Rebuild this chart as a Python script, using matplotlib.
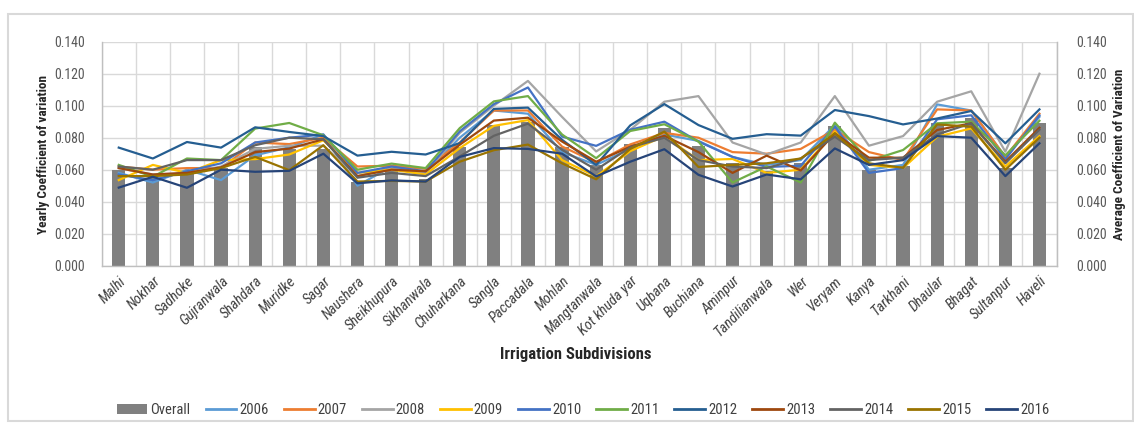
import matplotlib
matplotlib.use("Agg")
import matplotlib.pyplot as plt
from matplotlib import font_manager
from matplotlib.patches import Rectangle, Patch
from matplotlib.lines import Line2D
import numpy as np

subdivisions = ["Malhi", "Nokhar", "Sadhoke", "Gujranwala", "Shahdara", "Muridke", "Sagar",
                "Naushera", "Sheikhupura", "Sikhanwala", "Chuharkana", "Sangla", "Paccadala",
                "Mohlan", "Mangtanwala", "Kot khuda yar", "Uqbana", "Buchiana", "Aminpur",
                "Tandilianwala", "Wer", "Veryam", "Kanya", "Tarkhani", "Dhaular", "Bhagat",
                "Sultanpur", "Haveli"]

overall = [0.060, 0.055, 0.059, 0.061, 0.074, 0.073, 0.073, 0.052, 0.059, 0.054, 0.074, 0.088,
           0.090, 0.074, 0.063, 0.076, 0.086, 0.075, 0.064, 0.059, 0.064, 0.087, 0.060, 0.062,
           0.089, 0.092, 0.061, 0.089]

cv_2006 = [0.058, 0.052, 0.060, 0.0535, 0.069, 0.074, 0.082, 0.050, 0.062, 0.058, 0.080, 0.097,
           0.095, 0.071, 0.063, 0.073, 0.082, 0.078, 0.068, 0.063, 0.066, 0.088, 0.060, 0.063,
           0.1008, 0.097, 0.068, 0.093]
cv_2007 = [0.062, 0.060, 0.061, 0.061, 0.077, 0.076, 0.080, 0.062, 0.0625, 0.0605, 0.077, 0.097,
           0.097, 0.0745, 0.0645, 0.0758, 0.083, 0.080, 0.071, 0.070, 0.073, 0.085, 0.071, 0.066,
           0.0977, 0.097, 0.068, 0.095]
cv_2008 = [0.061, 0.057, 0.058, 0.062, 0.073, 0.075, 0.075, 0.056, 0.061, 0.058, 0.083, 0.100,
           0.1155, 0.093, 0.0714, 0.085, 0.1025, 0.106, 0.077, 0.0695, 0.077, 0.106, 0.075, 0.081,
           0.1025, 0.109, 0.0713, 0.120]
cv_2009 = [0.0535, 0.063, 0.058, 0.066, 0.0666, 0.0695, 0.0784, 0.058, 0.060, 0.057, 0.0735, 0.0874,
           0.091, 0.066, 0.0558, 0.0716, 0.081, 0.066, 0.0667, 0.058, 0.060, 0.0838, 0.063, 0.061,
           0.0806, 0.0858, 0.062, 0.081]
cv_2010 = [0.057, 0.0535, 0.059, 0.064, 0.077, 0.080, 0.082, 0.058, 0.062, 0.059, 0.084, 0.101,
           0.1114, 0.0807, 0.0749, 0.085, 0.090, 0.0776, 0.068, 0.0617, 0.0625, 0.087, 0.058, 0.061,
           0.0915, 0.094, 0.0665, 0.094]
cv_2011 = [0.063, 0.0556, 0.067, 0.066, 0.0857, 0.0892, 0.0815, 0.060, 0.0638, 0.061, 0.086, 0.1027,
           0.106, 0.082, 0.0672, 0.0842, 0.0884, 0.0776, 0.052, 0.062, 0.052, 0.0894, 0.0655, 0.0723,
           0.089, 0.090, 0.069, 0.0906]
cv_2012 = [0.0738, 0.067, 0.0773, 0.0738, 0.0865, 0.0836, 0.081, 0.0688, 0.0712, 0.0695, 0.0766, 0.098,
           0.0988, 0.0787, 0.063, 0.0877, 0.101, 0.0879, 0.0793, 0.0822, 0.0813, 0.0973, 0.0935, 0.0883,
           0.092, 0.0967, 0.0765, 0.0977]
cv_2013 = [0.061, 0.057, 0.058, 0.0615, 0.071, 0.0732, 0.079, 0.056, 0.060, 0.059, 0.0756, 0.0907,
           0.0925, 0.0776, 0.065, 0.0743, 0.0812, 0.071, 0.058, 0.0688, 0.0595, 0.0827, 0.0675, 0.0675,
           0.0848, 0.089, 0.065, 0.0862]
cv_2014 = [0.062, 0.060, 0.066, 0.066, 0.0753, 0.080, 0.079, 0.055, 0.058, 0.056, 0.0683, 0.0812,
           0.0888, 0.0724, 0.060, 0.074, 0.080, 0.066, 0.062, 0.061, 0.067, 0.0806, 0.066, 0.0675,
           0.082, 0.089, 0.064, 0.085]
cv_2015 = [0.056, 0.056, 0.057, 0.061, 0.068, 0.0597, 0.0753, 0.0526, 0.053, 0.0526, 0.065, 0.0722,
           0.0757, 0.064, 0.054, 0.073, 0.0838, 0.0617, 0.063, 0.064, 0.067, 0.0827, 0.064, 0.0612,
           0.0883, 0.0869, 0.060, 0.080]
cv_2016 = [0.0488, 0.0556, 0.0487, 0.060, 0.0587, 0.0593, 0.070, 0.0515, 0.0533, 0.0526, 0.068, 0.0735,
           0.073, 0.070, 0.0558, 0.065, 0.0728, 0.0568, 0.0495, 0.057, 0.054, 0.0733, 0.063, 0.066,
           0.081, 0.080, 0.056, 0.0765]

years = ["2006", "2007", "2008", "2009", "2010", "2011", "2012", "2013", "2014", "2015", "2016"]
yearly = [cv_2006, cv_2007, cv_2008, cv_2009, cv_2010, cv_2011, cv_2012, cv_2013, cv_2014, cv_2015, cv_2016]
colors = ["#5B9BD5", "#ED7D31", "#A5A5A5", "#FFC000", "#4472C4", "#70AD47",
          "#255E91", "#9E480E", "#636363", "#997300", "#264478"]
yticks = [0.0, 0.02, 0.04, 0.06, 0.08, 0.10, 0.12, 0.14]

# pick a narrow sans face if one is installed
fonts = font_manager.fontManager.ttflist
names = {f.name for f in fonts}
if "Liberation Sans Narrow" in names:
    plt.rcParams["font.family"] = ["Liberation Sans Narrow", "DejaVu Sans"]
elif "Roboto Condensed" in names:
    plt.rcParams["font.family"] = ["Roboto Condensed", "DejaVu Sans"]
elif any(f.name == "DejaVu Sans" and f.stretch == "condensed" for f in fonts):
    plt.rcParams["font.family"] = ["DejaVu Sans"]
    plt.rcParams["font.stretch"] = "condensed"
else:
    plt.rcParams["font.family"] = ["Liberation Sans", "DejaVu Sans"]

W, H = 1134, 423
fig = plt.figure(figsize=(W / 100, H / 100), dpi=100)
fig.add_artist(Rectangle((8 / W, 1 - 421 / H), (1133 - 8) / W, (421 - 14) / H,
                         transform=fig.transFigure, fill=False, ec="#D9D9D9", lw=1.5))

left, right, top, bottom = 101.7, 1056.5, 41.7, 265.7
ax = fig.add_axes([left / W, 1 - bottom / H, (right - left) / W, (bottom - top) / H])

n = len(subdivisions)
x = np.arange(n)
ax.bar(x, overall, width=0.39, color="#808080", zorder=2)
for vals, c in zip(yearly, colors):
    ax.plot(x, vals, color=c, lw=1.6, zorder=3)

ax.set_xlim(-0.5, n - 0.5)
ax.set_ylim(0, 0.14)
ax.set_yticks(yticks)
ax.set_yticklabels([f"{v:.3f}" for v in yticks])
ax.set_xticks(x)
ax.set_xticklabels(subdivisions, rotation=45, ha="right", va="top", rotation_mode="anchor",
                   fontsize=10.5, style="italic", color="#404040")
ax.set_xticks(np.arange(n + 1) - 0.5, minor=True)
ax.grid(True, axis="y", color="#D9D9D9", lw=1.0, zorder=0)
ax.grid(True, axis="x", which="minor", color="#D9D9D9", lw=1.0, zorder=0)
ax.set_axisbelow(True)
ax.tick_params(axis="x", which="both", length=0, pad=6)
ax.tick_params(axis="y", length=0, pad=12, labelsize=10, labelcolor="#595959")
ax.spines["top"].set_visible(False)
for s in ["left", "right", "bottom"]:
    ax.spines[s].set_color("#BFBFBF")
    ax.spines[s].set_linewidth(1.0)

ax2 = ax.twinx()
ax2.set_ylim(0, 0.14)
ax2.set_yticks(yticks)
ax2.set_yticklabels([f"{v:.3f}" for v in yticks])
ax2.tick_params(axis="y", length=0, pad=14, labelsize=10, labelcolor="#595959")
for s in ["top", "left", "bottom"]:
    ax2.spines[s].set_visible(False)
ax2.spines["right"].set_color("#BFBFBF")

# axis titles
fig.text(44 / W, 1 - 154 / H, "Yearly Coefficient of variation", rotation=90, ha="center",
         va="center", fontsize=9.5, fontweight="bold", color="#262626")
fig.text(1119 / W, 1 - 154 / H, "Average Coefficient of Variation", rotation=90, ha="center",
         va="center", fontsize=9.5, fontweight="bold", color="#262626")
fig.text(576 / W, 1 - 354 / H, "Irrigation Subdivisions", ha="center", va="center",
         fontsize=12, fontweight="bold", color="#262626")

handles = [Patch(facecolor="#808080", edgecolor="none", label="Overall")]
handles += [Line2D([], [], color=c, lw=2, label=y) for y, c in zip(years, colors)]
fig.legend(handles=handles, loc="center", bbox_to_anchor=(583 / W, 1 - 410 / H), ncol=12,
           frameon=False, fontsize=10.5, handlelength=2.1, handletextpad=0.2, columnspacing=1.05,
           labelcolor="#404040")

fig.savefig("out.png", dpi=100)
